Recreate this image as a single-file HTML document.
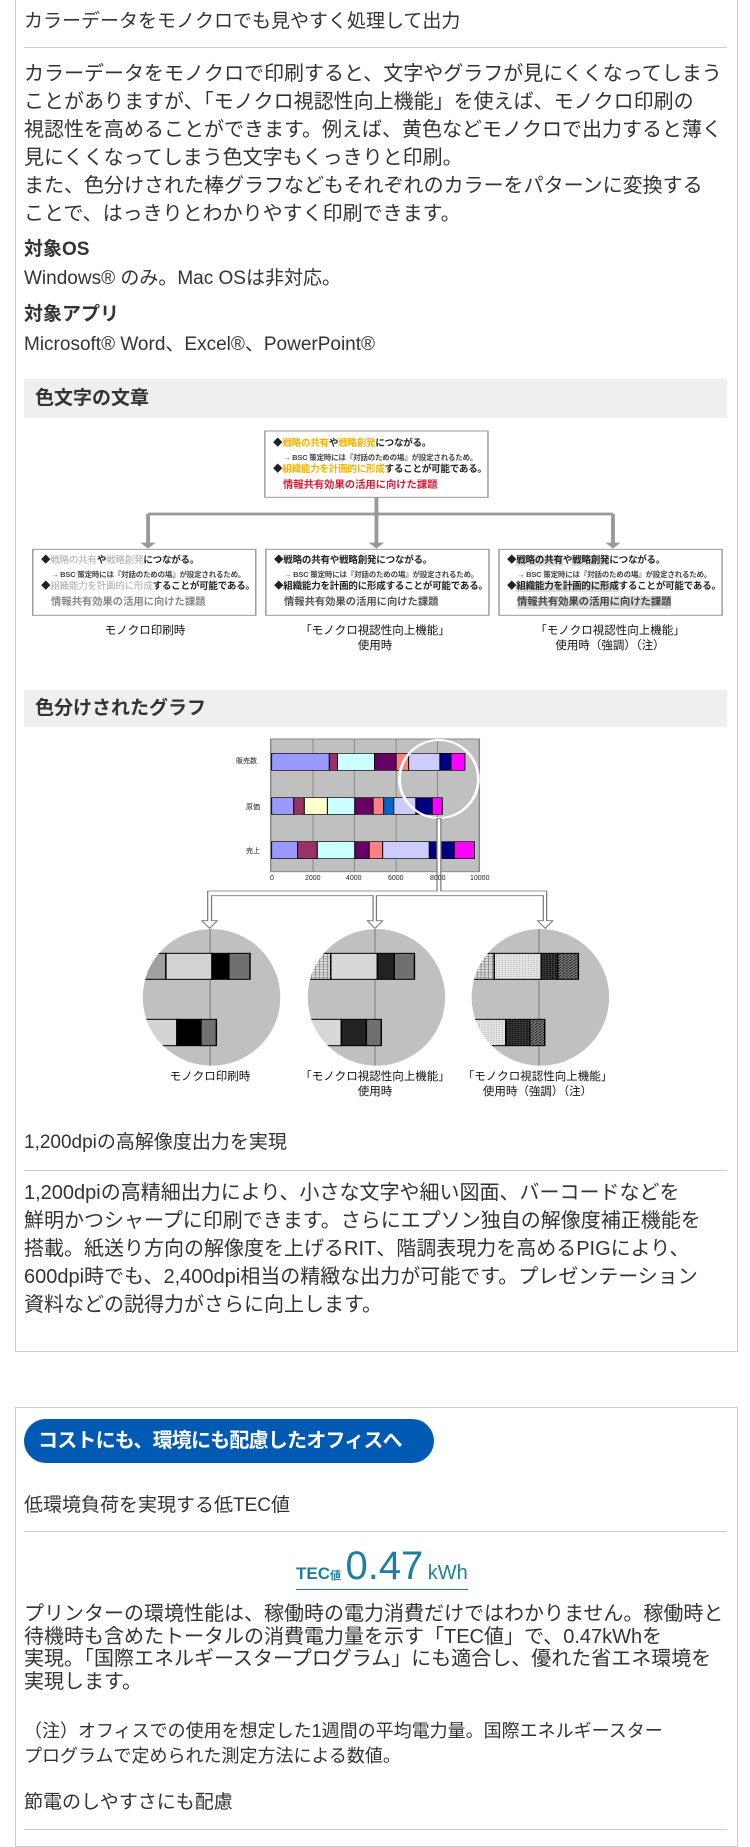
<!DOCTYPE html>
<html><head><meta charset="utf-8"><style>
body{margin:0;width:750px;height:1839px;position:relative;background:#fff;font-family:"Liberation Sans","Noto Sans CJK JP",sans-serif;color:#333;overflow:hidden}
.a{position:absolute;white-space:nowrap}
.box{position:absolute;border:1px solid #ccc;box-sizing:border-box}
.hr{position:absolute;left:24px;width:703px;height:1px;background:#ccc}
.p{font-size:20px;line-height:28px}
.gh{position:absolute;left:24px;width:703px;background:#efefef;font-weight:bold;font-size:19px;color:#333;box-sizing:border-box;padding-left:11px}
.sm{font-size:9.5px;font-weight:bold;color:#222;line-height:12px;letter-spacing:-0.2px}
.s2{font-size:7.5px;font-weight:bold;color:#444;letter-spacing:-0.2px}
.s3{font-size:10.3px;font-weight:bold;line-height:13px}
.lb{font-size:11.5px;color:#111;text-align:center;line-height:15px}
</style></head><body>

<div class="box" style="left:15px;top:-1px;width:723px;height:1353px"></div>
<div class="a" style="left:24px;top:10px;font-size:19px;line-height:24px">カラーデータをモノクロでも見やすく処理して出力</div>
<div class="hr" style="top:47px"></div>
<div class="a p" style="left:24px;top:60px">カラーデータをモノクロで印刷すると、文字やグラフが見にくくなってしまう<br>ことがありますが、「モノクロ視認性向上機能」を使えば、モノクロ印刷の<br>視認性を高めることができます。例えば、黄色などモノクロで出力すると薄く<br>見にくくなってしまう色文字もくっきりと印刷。<br>また、色分けされた棒グラフなどもそれぞれのカラーをパターンに変換する<br>ことで、はっきりとわかりやすく印刷できます。</div>
<div class="a" style="left:24px;top:238px;font-size:19px;font-weight:bold;line-height:24px">対象OS</div>
<div class="a" style="left:24px;top:267px;font-size:19px;line-height:24px">Windows® のみ。Mac OSは非対応。</div>
<div class="a" style="left:24px;top:303px;font-size:19px;font-weight:bold;line-height:24px">対象アプリ</div>
<div class="a" style="left:24px;top:333px;font-size:19px;line-height:24px">Microsoft® Word、Excel®、PowerPoint®</div>

<div class="gh" style="top:379px;height:39px;line-height:39px">色文字の文章</div>

<svg class="a" style="left:0;top:380px" width="750" height="300" viewBox="0 0 1560 900" preserveAspectRatio="none">
<g fill="#fff" stroke="#999" stroke-width="3">
<rect x="551" y="153" width="464" height="199"/>
<rect x="68" y="508" width="464" height="198"/>
<rect x="553" y="508" width="464" height="198"/>
<rect x="1038" y="508" width="464" height="198"/>
</g>
<g stroke="#999" stroke-width="8" fill="none">
<path d="M783 352V402M308 402H1275M308 402V490M783 402V490M1275 402V490"/>
</g>
<g fill="#999"><path d="M292 488h32l-16 18z"/><path d="M767 488h32l-16 18z"/><path d="M1259 488h32l-16 18z"/></g>
</svg>
<div class="a sm" style="left:273px;top:438px">◆<span style="color:#f0b400">戦略の共有</span>や<span style="color:#f0b400">戦略創発</span>につながる。</div>
<div class="a s2" style="left:283px;top:452px">→ BSC 策定時には『対話のための場』が設定されるため。</div>
<div class="a sm" style="left:273px;top:464px">◆<span style="color:#f0b400">組織能力を計画的に形成</span>することが可能である。</div>
<div class="a s3" style="left:283px;top:479px;color:#d0203a">情報共有効果の活用に向けた課題</div>

<div class="a sm" style="left:41px;top:555px">◆<span style="color:#aaa;font-weight:normal">戦略の共有</span>や<span style="color:#aaa;font-weight:normal">戦略創発</span>につながる。</div>
<div class="a s2" style="left:51px;top:569px">→ BSC 策定時には『対話のための場』が設定されるため。</div>
<div class="a sm" style="left:41px;top:581px">◆<span style="color:#aaa;font-weight:normal">組織能力を計画的に形成</span>することが可能である。</div>
<div class="a s3" style="left:51px;top:596px;color:#888">情報共有効果の活用に向けた課題</div>

<div class="a sm" style="left:274px;top:555px">◆戦略の共有や戦略創発につながる。</div>
<div class="a s2" style="left:284px;top:569px">→ BSC 策定時には『対話のための場』が設定されるため。</div>
<div class="a sm" style="left:274px;top:581px">◆組織能力を計画的に形成することが可能である。</div>
<div class="a s3" style="left:284px;top:596px;color:#555">情報共有効果の活用に向けた課題</div>

<div class="a sm" style="left:507px;top:555px">◆<span style="background:#ddd">戦略の共有</span>や<span style="background:#ddd">戦略創発</span>につながる。</div>
<div class="a s2" style="left:517px;top:569px">→ BSC 策定時には『対話のための場』が設定されるため。</div>
<div class="a sm" style="left:507px;top:581px">◆<span style="background:#ddd">組織能力を計画的に形成</span>することが可能である。</div>
<div class="a s3" style="left:517px;top:596px;color:#444;background:#ddd">情報共有効果の活用に向けた課題</div>

<div class="a lb" style="left:60px;width:170px;top:624px">モノクロ印刷時</div>
<div class="a lb" style="left:290px;width:170px;top:624px">「モノクロ視認性向上機能」<br>使用時</div>
<div class="a lb" style="left:520px;width:180px;top:624px">「モノクロ視認性向上機能」<br>使用時（強調）（注）</div>

<div class="gh" style="top:690px;height:37px;line-height:37px">色分けされたグラフ</div>

<svg class="a" style="left:0;top:700px" width="750" height="420" viewBox="0 0 1560 1260" preserveAspectRatio="none">
<defs>
<clipPath id="c1"><ellipse cx="440" cy="892" rx="143" ry="205"/></clipPath>
<clipPath id="c2"><ellipse cx="783" cy="892" rx="143" ry="205"/></clipPath>
<clipPath id="c3"><ellipse cx="1124" cy="892" rx="143" ry="205"/></clipPath>
<pattern id="pd" width="6" height="6" patternUnits="userSpaceOnUse"><rect width="6" height="6" fill="#e4e4e4"/><rect width="2" height="2" fill="#999"/></pattern>
<pattern id="pg" width="8" height="8" patternUnits="userSpaceOnUse"><rect width="8" height="8" fill="#ddd"/><path d="M0 0H8M0 0V8" stroke="#555" stroke-width="2"/></pattern>
<pattern id="ph" width="8" height="8" patternUnits="userSpaceOnUse"><rect width="8" height="8" fill="#888"/><path d="M0 8L8 0" stroke="#222" stroke-width="3"/></pattern>
<pattern id="pk" width="6" height="6" patternUnits="userSpaceOnUse"><rect width="6" height="6" fill="#222"/><rect width="2" height="2" fill="#777"/></pattern>
</defs>
<rect x="563" y="117" width="434" height="398" fill="#c0c0c0" stroke="#888" stroke-width="3"/>
<path d="M651 117V515M737 117V515M824 117V515M910 117V515" stroke="#888" stroke-width="2"/>
<g stroke="#000" stroke-width="2">
<rect x="565" y="160" width="120" height="51" fill="#9999ff"/><rect x="685" y="160" width="17" height="51" fill="#993366"/><rect x="702" y="160" width="77" height="51" fill="#ccffff"/><rect x="779" y="160" width="45" height="51" fill="#660066"/><rect x="824" y="160" width="26" height="51" fill="#ff8080"/><rect x="850" y="160" width="65" height="51" fill="#ccccff"/><rect x="915" y="160" width="23" height="51" fill="#000080"/><rect x="938" y="160" width="29" height="51" fill="#ff00ff"/>
<rect x="565" y="293" width="46" height="50" fill="#9999ff"/><rect x="611" y="293" width="22" height="50" fill="#993366"/><rect x="633" y="293" width="48" height="50" fill="#ffffcc"/><rect x="681" y="293" width="57" height="50" fill="#ccffff"/><rect x="738" y="293" width="38" height="50" fill="#660066"/><rect x="776" y="293" width="22" height="50" fill="#ff8080"/><rect x="798" y="293" width="21" height="50" fill="#0066cc"/><rect x="819" y="293" width="46" height="50" fill="#ccccff"/><rect x="865" y="293" width="34" height="50" fill="#000080"/><rect x="899" y="293" width="21" height="50" fill="#ff00ff"/>
<rect x="565" y="425" width="54" height="51" fill="#9999ff"/><rect x="619" y="425" width="41" height="51" fill="#993366"/><rect x="660" y="425" width="78" height="51" fill="#ccffff"/><rect x="738" y="425" width="30" height="51" fill="#660066"/><rect x="768" y="425" width="28" height="51" fill="#ff8080"/><rect x="796" y="425" width="97" height="51" fill="#ccccff"/><rect x="893" y="425" width="52" height="51" fill="#000080"/><rect x="945" y="425" width="42" height="51" fill="#ff00ff"/>
</g>
<ellipse cx="913" cy="237" rx="82" ry="117" fill="none" stroke="#fff" stroke-width="6"/>
<path d="M909 355V573H432V662H420L436 685L452 662H440V587H776V662H764L780 685L796 662H783V587H1130V662H1118L1134 685L1150 662H1137V573H917V355Z" fill="#fff" stroke="#777" stroke-width="2.5"/>
<g clip-path="url(#c1)"><rect x="290" y="680" width="300" height="420" fill="#c0c0c0"/><path d="M437 680V1100" stroke="#777" stroke-width="2"/>
<g stroke="#000" stroke-width="3"><rect x="290" y="760" width="55" height="78" fill="#a0a0a0"/><rect x="345" y="760" width="96" height="78" fill="#d3d3d3"/><rect x="441" y="760" width="35" height="78" fill="#000"/><rect x="476" y="760" width="44" height="78" fill="#707070"/>
<rect x="290" y="958" width="78" height="79" fill="#d3d3d3"/><rect x="368" y="958" width="50" height="79" fill="#000"/><rect x="418" y="958" width="32" height="79" fill="#707070"/></g></g>
<g clip-path="url(#c2)"><rect x="630" y="680" width="300" height="420" fill="#c0c0c0"/><path d="M780 680V1100" stroke="#777" stroke-width="2"/>
<g stroke="#000" stroke-width="3"><rect x="633" y="760" width="55" height="78" fill="url(#pg)"/><rect x="688" y="760" width="97" height="78" fill="#d8d8d8"/><rect x="785" y="760" width="35" height="78" fill="#222"/><rect x="820" y="760" width="42" height="78" fill="#707070"/>
<rect x="633" y="958" width="77" height="79" fill="#d8d8d8"/><rect x="710" y="958" width="52" height="79" fill="#222"/><rect x="762" y="958" width="31" height="79" fill="#707070"/></g></g>
<g clip-path="url(#c3)"><rect x="975" y="680" width="300" height="420" fill="#c0c0c0"/><path d="M1121 680V1100" stroke="#777" stroke-width="2"/>
<g stroke="#000" stroke-width="3"><rect x="975" y="760" width="53" height="78" fill="url(#pg)"/><rect x="1028" y="760" width="98" height="78" fill="url(#pd)"/><rect x="1126" y="760" width="34" height="78" fill="url(#pk)"/><rect x="1160" y="760" width="43" height="78" fill="url(#ph)"/>
<rect x="975" y="958" width="77" height="79" fill="url(#pd)"/><rect x="1052" y="958" width="50" height="79" fill="url(#pk)"/><rect x="1102" y="958" width="31" height="79" fill="url(#ph)"/></g></g>
</svg>
<div class="a" style="left:236px;top:756px;font-size:7px;color:#222">販売数</div>
<div class="a" style="left:246px;top:802px;font-size:7px;color:#222">原価</div>
<div class="a" style="left:246px;top:846px;font-size:7px;color:#222">売上</div>
<div class="a" style="left:270px;top:875px;font-size:7px;color:#222">0</div>
<div class="a" style="left:305px;top:875px;font-size:7px;color:#222">2000</div>
<div class="a" style="left:346px;top:875px;font-size:7px;color:#222">4000</div>
<div class="a" style="left:388px;top:875px;font-size:7px;color:#222">6000</div>
<div class="a" style="left:430px;top:875px;font-size:7px;color:#222">8000</div>
<div class="a" style="left:470px;top:875px;font-size:7px;color:#222">10000</div>
<div class="a lb" style="left:130px;width:160px;top:1070px">モノクロ印刷時</div>
<div class="a lb" style="left:290px;width:170px;top:1070px">「モノクロ視認性向上機能」<br>使用時</div>
<div class="a lb" style="left:450px;width:175px;top:1070px">「モノクロ視認性向上機能」<br>使用時（強調）（注）</div>

<div class="a" style="left:24px;top:1131px;font-size:19px;line-height:24px">1,200dpiの高解像度出力を実現</div>
<div class="hr" style="top:1170px"></div>
<div class="a p" style="left:24px;top:1179px">1,200dpiの高精細出力により、小さな文字や細い図面、バーコードなどを<br>鮮明かつシャープに印刷できます。さらにエプソン独自の解像度補正機能を<br>搭載。紙送り方向の解像度を上げるRIT、階調表現力を高めるPIGにより、<br>600dpi時でも、2,400dpi相当の精緻な出力が可能です。プレゼンテーション<br>資料などの説得力がさらに向上します。</div>

<div class="box" style="left:15px;top:1407px;width:723px;height:440px"></div>
<div class="a" style="left:24px;top:1419px;width:410px;height:44px;border-radius:22px;background:#0059b3;color:#fff;font-weight:bold;font-size:20px;letter-spacing:-0.8px;line-height:44px;text-indent:14px;overflow:hidden">コストにも、環境にも配慮したオフィスへ</div>
<div class="a" style="left:24px;top:1494px;font-size:19px;line-height:24px">低環境負荷を実現する低TEC値</div>
<div class="hr" style="top:1531px"></div>
<div class="a" style="left:296px;top:1543px;color:#1f7ea0;line-height:46px;border-bottom:1px solid #1f7ea0;height:46px"><span style="font-size:17px;font-weight:bold">TEC<span style="font-size:11px">値</span></span> <span style="font-size:40px">0.47</span> <span style="font-size:20px">kWh</span></div>
<div class="a" style="left:24px;top:1603px;font-size:20px;line-height:22.5px">プリンターの環境性能は、稼働時の電力消費だけではわかりません。稼働時と<br>待機時も含めたトータルの消費電力量を示す「TEC値」で、0.47kWhを<br>実現。「国際エネルギースタープログラム」にも適合し、優れた省エネ環境を<br>実現します。</div>
<div class="a" style="left:24px;top:1719px;font-size:18px;line-height:25px">（注）オフィスでの使用を想定した1週間の平均電力量。国際エネルギースター<br>プログラムで定められた測定方法による数値。</div>
<div class="a" style="left:24px;top:1791px;font-size:19px;line-height:24px">節電のしやすさにも配慮</div>
<div class="hr" style="top:1829px"></div>
</body></html>
